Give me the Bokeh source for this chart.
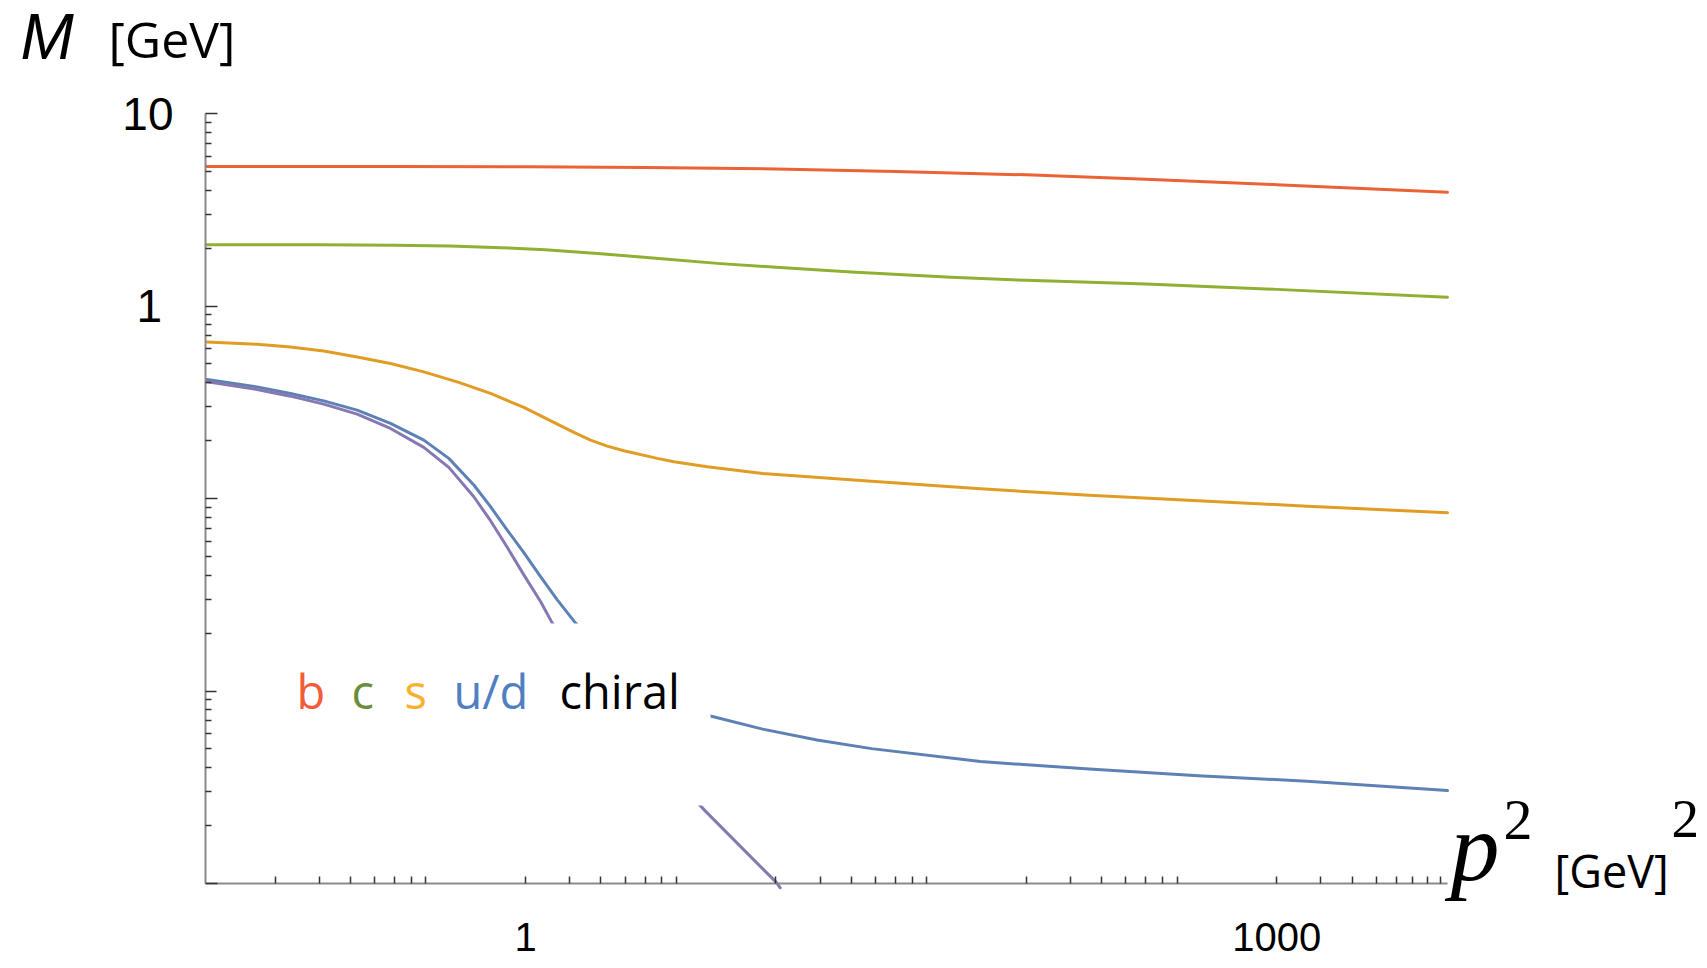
import math
from bokeh.plotting import figure
from bokeh.models import (Range1d, FixedTicker, CustomJSTickFormatter, Label,
                          BoxAnnotation, LogAxis)
from bokeh.embed import file_html
from bokeh.resources import INLINE

# ---------------- data ----------------
p2_b = [0.053, 0.3, 1, 3, 10, 30, 100, 300, 1000, 4810]
M_b = [5.30, 5.30, 5.29, 5.24, 5.15, 5.00, 4.80, 4.55, 4.27, 3.90]

p2_c = [0.053, 0.15, 0.3, 0.5, 0.8, 1.2, 2, 3.5, 6, 10, 20, 50, 100, 300, 1000, 4810]
M_c = [2.08, 2.08, 2.07, 2.05, 2.01, 1.96, 1.87, 1.76, 1.66, 1.59, 1.50, 1.41, 1.36, 1.30, 1.22, 1.11]

p2_s = [0.0535, 0.0847, 0.1151, 0.1563, 0.2126, 0.2888, 0.3924, 0.5333, 0.7247, 0.9845,
        1.339, 1.56, 1.818, 2.121, 2.471, 3.359, 3.913, 5.32, 8.848, 24.09, 65.56, 178.5,
        486.2, 1323, 4810]
M_s = [0.6506, 0.6329, 0.6128, 0.5842, 0.5437, 0.5028, 0.4546, 0.4035, 0.3513, 0.2972,
       0.2434, 0.2205, 0.2011, 0.1872, 0.1770, 0.1616, 0.1552, 0.1462, 0.1348, 0.1229,
       0.1123, 0.1039, 0.0973, 0.0912, 0.0844]

p2_ud = [0.0535, 0.0847, 0.1151, 0.1563, 0.2126, 0.2888, 0.3924, 0.4938, 0.6216, 0.7247,
         0.8450, 0.9845, 1.148, 1.339, 1.584, 2.5, 3.5, 5.474, 8.848, 14.6, 24.09, 65.56,
         178.5, 486.2, 1323, 4810]
M_ud = [0.4153, 0.3801, 0.3513, 0.3215, 0.2877, 0.2455, 0.2011, 0.1616, 0.1175, 0.0907,
        0.0686, 0.0524, 0.0393, 0.02975, 0.02253, 0.0125, 0.0095, 0.00742, 0.00634, 0.00557,
        0.00502, 0.00430, 0.00393, 0.00363, 0.00340, 0.00304]

p2_ch = [0.0535, 0.0847, 0.1151, 0.1563, 0.2126, 0.2888, 0.3924, 0.4938, 0.6216, 0.7247,
         0.8450, 0.9845, 1.148, 1.279, 2.4, 5.24, 10.06, 10.4]
M_ch = [0.4035, 0.3684, 0.3401, 0.3091, 0.2743, 0.2312, 0.1843, 0.1451, 0.1021, 0.0767,
        0.0558, 0.0401, 0.02915, 0.02253, 0.0071, 0.00237, 0.00101, 0.00095]

series_names = ["b", "c", "s", "u/d", "chiral"]
line_colors = ["#EB6235", "#8FB032", "#E19C24", "#5E81B5", "#8778B3"]
legend_colors = ["#F25C3A", "#6B8E3A", "#FBB02D", "#4F80C2", "#000000"]

x_major = [1, 1000]
x_labels = ["1", "1000"]
y_major = [0.001, 0.01, 0.1, 1, 10]
y_labels = ["", "", "", "1", "10"]

# ---------------- layout ----------------
W, H = 1707, 968
FL, FR, FT, FB = 205, 1447, 113, 883          # axes box in canvas pixels
XMIN, XMAX = 0.0527, 4810
YMIN, YMAX = 0.001, 10

# the plotting frame covers the whole canvas; the axes are pinned at the box
dec_x = (FR - FL) / (math.log10(XMAX) - math.log10(XMIN))
dec_y = (FB - FT) / (math.log10(YMAX) - math.log10(YMIN))
x_start = 10 ** (math.log10(XMIN) - FL / dec_x)
x_end = 10 ** (math.log10(XMAX) + (W - FR) / dec_x)
y_start = 10 ** (math.log10(YMIN) - (H - FB) / dec_y)
y_end = 10 ** (math.log10(YMAX) + FT / dec_y)

p = figure(width=W, height=H, x_axis_type="log", y_axis_type="log",
           x_axis_location=None, y_axis_location=None,
           x_range=Range1d(x_start, x_end), y_range=Range1d(y_start, y_end),
           output_backend="svg", toolbar_location=None,
           min_border=0, min_border_left=0, min_border_right=0,
           min_border_top=0, min_border_bottom=0)
p.outline_line_color = None
p.background_fill_color = "white"
p.border_fill_color = "white"
p.grid.visible = False

xs_all = [p2_b, p2_c, p2_s, p2_ud, p2_ch]
ys_all = [M_b, M_c, M_s, M_ud, M_ch]
for xs, ys, col in zip(xs_all, ys_all, line_colors):
    p.line(xs, ys, line_color=col, line_width=3, line_join="round", line_cap="round")

# ---------------- axes ----------------
x_minor = []
for e in range(-1, 4):
    for k in [1, 1.5, 2, 2.5, 3, 3.5, 4]:
        v = k * 10 ** e
        if v not in x_major and XMIN < v < XMAX:
            x_minor.append(v)
x_minor.append(4500)

y_minor = []
for e in range(-3, 1):
    for k in range(2, 10):
        y_minor.append(k * 10 ** e)

xa = LogAxis(fixed_location=YMIN, bounds=(XMIN, XMAX))
xa.ticker = FixedTicker(ticks=x_major, minor_ticks=x_minor)
xa.formatter = CustomJSTickFormatter(
    args=dict(vals=x_major, labs=x_labels),
    code="for (let i = 0; i < vals.length; i++) { if (Math.abs(tick - vals[i]) < 1e-6 * vals[i]) return labs[i]; } return '';")
xa.axis_line_color = "#8a8a8a"
xa.axis_line_width = 2
xa.major_tick_in = 7
xa.major_tick_out = 0
xa.minor_tick_in = 7
xa.minor_tick_out = 0
xa.major_tick_line_color = "#333333"
xa.minor_tick_line_color = "#333333"
xa.major_tick_line_width = 1.5
xa.minor_tick_line_width = 1.5
xa.major_label_text_font = "Liberation Sans"
xa.major_label_text_font_size = "40px"
xa.major_label_text_color = "black"
xa.major_label_standoff = 39
p.add_layout(xa, "below")

ya = LogAxis(fixed_location=XMIN, bounds=(YMIN, YMAX))
ya.ticker = FixedTicker(ticks=y_major, minor_ticks=y_minor)
ya.formatter = CustomJSTickFormatter(
    args=dict(vals=y_major, labs=y_labels),
    code="for (let i = 0; i < vals.length; i++) { if (Math.abs(tick - vals[i]) < 1e-6 * vals[i]) return (labs[i] == '1') ? '1\u2005' : labs[i]; } return '';")
ya.axis_line_color = "#8a8a8a"
ya.axis_line_width = 2
ya.major_tick_in = 12
ya.major_tick_out = 0
ya.minor_tick_in = 6
ya.minor_tick_out = 0
ya.major_tick_line_color = "#333333"
ya.minor_tick_line_color = "#333333"
ya.major_tick_line_width = 1.5
ya.minor_tick_line_width = 1.5
ya.major_label_text_font = "Liberation Sans"
ya.major_label_text_font_size = "46px"
ya.major_label_text_color = "black"
ya.major_label_standoff = 32
p.add_layout(ya, "left")

# ---------------- legend box and texts (canvas pixel positions) ----------------
box = BoxAnnotation(left=216, right=710, top=623, bottom=805,
                    left_units="canvas", right_units="canvas",
                    top_units="canvas", bottom_units="canvas",
                    fill_color="white", fill_alpha=1.0, line_color=None)
p.add_layout(box)


def add_text(px, py, txt, font, size, color="black", style="normal"):
    p.add_layout(Label(x=px, y=py, x_units="canvas", y_units="canvas",
                       text=txt, text_color=color,
                       text_font=font, text_font_size=size, text_font_style=style,
                       text_baseline="alphabetic", text_align="left"))


legend_px = [296, 351, 404, 453, 559]
for name, col, lx in zip(series_names, legend_colors, legend_px):
    add_text(lx, 690, name, "Open Sans", "47px", col)

# ---------------- axis titles ----------------
add_text(20, 36, "M", "Liberation Sans", "64px", style="italic")
add_text(108, 38, "[GeV]", "Open Sans", "50px")
add_text(1450, 846, "p", "Liberation Serif", "98px", style="italic")
add_text(1503, 819, "2", "Liberation Serif", "58px")
add_text(1554, 870, "[GeV]", "Open Sans", "45px")
add_text(1671, 818, "2", "Liberation Serif", "55px")

open("out.html", "w").write(file_html(p, INLINE))
